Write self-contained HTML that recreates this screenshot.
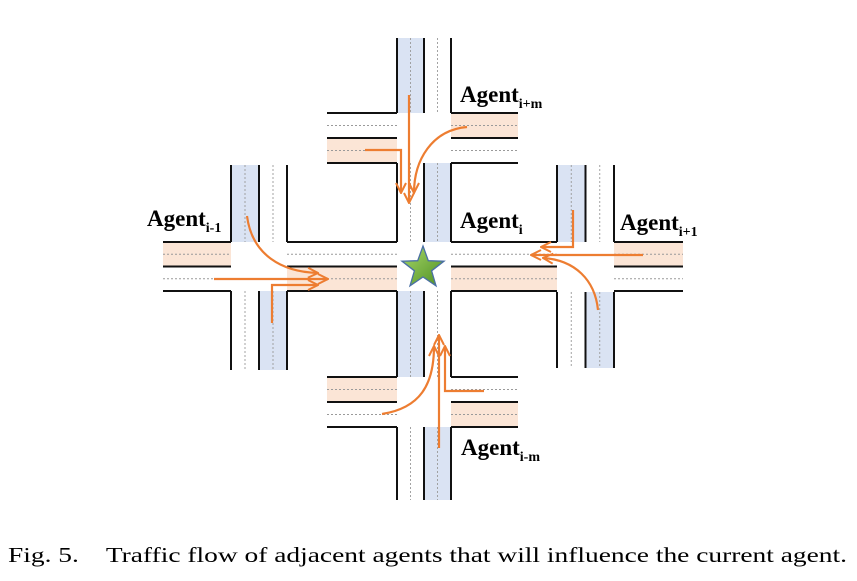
<!DOCTYPE html>
<html><head><meta charset="utf-8"><style>
html,body{margin:0;padding:0;background:#fff;width:857px;height:581px;overflow:hidden}
svg{display:block}
.lbl{font-family:"Liberation Serif",serif;font-weight:bold;font-size:23px;fill:#000}
.sub{font-size:14px}
.cap{font-family:"Liberation Serif",serif;font-size:21px;fill:#000}
</style></head><body>
<svg id="d" width="857" height="581" viewBox="0 0 857 581">
<defs>
<marker id="ah2" viewBox="0 0 12 12" refX="11" refY="6" markerWidth="12" markerHeight="12" orient="auto" markerUnits="userSpaceOnUse">
<polyline points="1,1 11,6 1,11" fill="none" stroke="#ED7D31" stroke-width="2"/>
</marker>
<linearGradient id="sg" x1="0" y1="0" x2="1" y2="1"><stop offset="0" stop-color="#A8D86A"/><stop offset="1" stop-color="#4E8F22"/></linearGradient>
</defs>
<g id="roads"></g>
<g id="arrows" fill="none" stroke="#ED7D31" stroke-width="2.2">
<path d="M409,95 L409,203" marker-end="url(#ah2)"/>
<path d="M365,150 L401,150 L401,193" marker-end="url(#ah2)"/>
<path d="M467,127 C432,130 414,160 414,193" marker-end="url(#ah2)"/>
<path d="M247,216 C252,255 282,272 318,273" marker-end="url(#ah2)"/>
<path d="M214,279 L328,279" marker-end="url(#ah2)"/>
<path d="M272,323 L272,285 L318,285" marker-end="url(#ah2)"/>
<path d="M573,210 L573,247 L541,247" marker-end="url(#ah2)"/>
<path d="M643,255 L531,255" marker-end="url(#ah2)"/>
<path d="M598,310 C595,280 575,260 543,258" marker-end="url(#ah2)"/>
<path d="M439,448 L439,335" marker-end="url(#ah2)"/>
<path d="M382,414 C420,408 434,385 434,346" marker-end="url(#ah2)"/>
<path d="M484,391 L445,391 L445,346" marker-end="url(#ah2)"/>
</g>
<polygon points="423,246 428.3,260.7 444,261.2 431.6,270.8 436,285.8 423,277 410,285.8 414.4,270.8 402,261.2 417.7,260.7" fill="url(#sg)" stroke="#4A6FA5" stroke-width="1.3"/>
<text class="lbl" x="460" y="102">Agent<tspan class="sub" dy="6">i+m</tspan></text>
<text class="lbl" x="147" y="226">Agent<tspan class="sub" dy="6">i-1</tspan></text>
<text class="lbl" x="460" y="228">Agent<tspan class="sub" dy="6">i</tspan></text>
<text class="lbl" x="620" y="230">Agent<tspan class="sub" dy="6">i+1</tspan></text>
<text class="lbl" x="461" y="455">Agent<tspan class="sub" dy="6">i-m</tspan></text>
<text class="cap" x="8" y="562" textLength="839" lengthAdjust="spacingAndGlyphs" xml:space="preserve">Fig. 5.    Traffic flow of adjacent agents that will influence the current agent.</text>
</svg>
<script>
var NS='http://www.w3.org/2000/svg';
var roadsG=document.getElementById('roads');
var BLUE='#DAE3F3',ORANGE='#FBE5D6';
var vRoads=[[397,451,38,113,BLUE,null],[397,451,163,242,null,BLUE],[397,451,291,377,BLUE,null],[397,451,427,500,null,BLUE],
[231,287,165,242,BLUE,null],[231,287,291,370,null,BLUE],[557,614,165,242,BLUE,null],[557,614,292,368,null,BLUE]];
var hRoads=[[163,231,242,291,ORANGE,null],[287,397,242,291,null,ORANGE],[451,557,242,291,null,ORANGE],[614,683,242,291,ORANGE,null],
[327,397,113,163,null,ORANGE],[451,518,113,163,ORANGE,null],[327,397,377,427,ORANGE,null],[451,518,377,427,null,ORANGE]];
function mk(tag,attrs,name){
  var e=document.createElementNS(NS,tag);
  for(var k in attrs)e.setAttribute(k,attrs[k]);
  
  
  roadsG.appendChild(e);return e;
}
vRoads.forEach(function(r){
  var m=(r[0]+r[1])/2;
  if(r[4])mk('rect',{x:r[0],y:r[2],width:m-r[0],height:r[3]-r[2],fill:r[4]},'lane-fill');
  if(r[5])mk('rect',{x:m,y:r[2],width:r[1]-m,height:r[3]-r[2],fill:r[5]},'lane-fill');
  [(r[0]+m)/2,(m+r[1])/2].forEach(function(x){mk('line',{x1:x,y1:r[2],x2:x,y2:r[3],stroke:'#9a9a9a','stroke-width':0.9,'stroke-dasharray':'2 2'},'lane-center-dash');});
  [r[0],m,r[1]].forEach(function(x){mk('line',{x1:x,y1:r[2],x2:x,y2:r[3],stroke:'#111','stroke-width':2},'road-edge');});
});
hRoads.forEach(function(r){
  var m=(r[2]+r[3])/2;
  if(r[4])mk('rect',{x:r[0],y:r[2],width:r[1]-r[0],height:m-r[2],fill:r[4]},'lane-fill');
  if(r[5])mk('rect',{x:r[0],y:m,width:r[1]-r[0],height:r[3]-m,fill:r[5]},'lane-fill');
  [(r[2]+m)/2,(m+r[3])/2].forEach(function(y){mk('line',{x1:r[0],y1:y,x2:r[1],y2:y,stroke:'#9a9a9a','stroke-width':0.9,'stroke-dasharray':'2 2'},'lane-center-dash');});
  [r[2],m,r[3]].forEach(function(y){mk('line',{x1:r[0],y1:y,x2:r[1],y2:y,stroke:'#111','stroke-width':2},'road-edge');});
});
</script>
</body></html>
